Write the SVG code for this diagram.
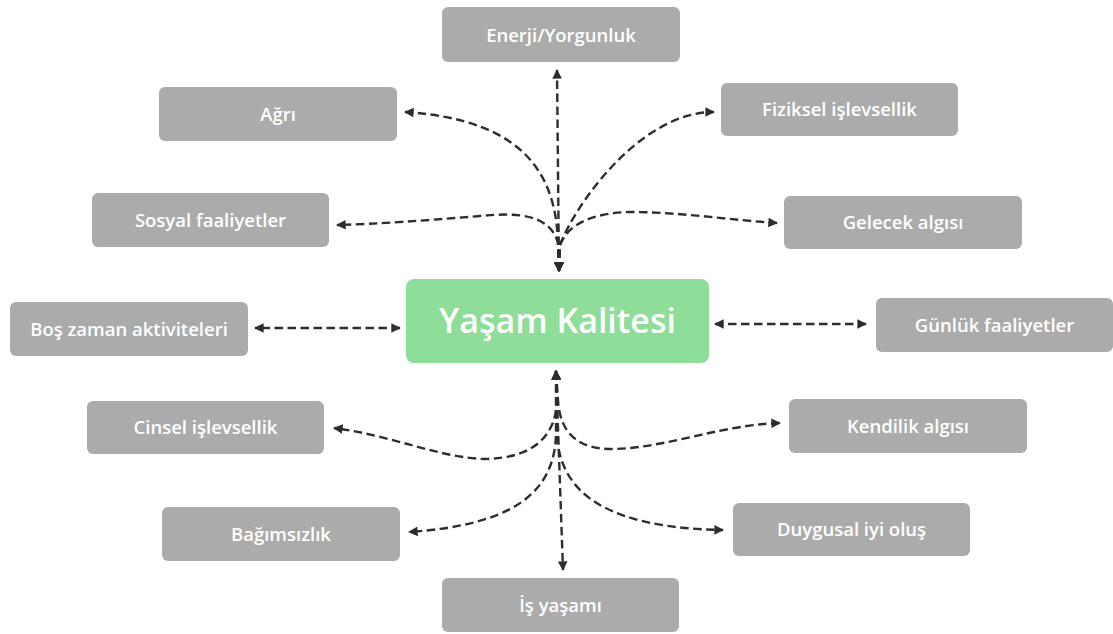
<svg xmlns="http://www.w3.org/2000/svg" width="1113" height="634" viewBox="0 0 1113 634">
<style>
.box{fill:#ABABAB}
.ctr{fill:#8EDD99}
.lbl{font-family:"Open Sans","Noto Sans","Liberation Sans",sans-serif;font-weight:600;font-size:18.5px;fill:#fff;text-anchor:middle}
.title{font-family:"Open Sans","Noto Sans","Liberation Sans",sans-serif;font-weight:600;font-size:34px;fill:#fff;text-anchor:middle}
.c{fill:none;stroke:#2d2d2d;stroke-width:2.4;stroke-dasharray:8.5 4.5;marker-start:url(#ah);marker-end:url(#ah)}
</style>
<defs>
<marker id="ah" viewBox="0 0 10 10" refX="9" refY="5" markerWidth="4.2" markerHeight="4" orient="auto-start-reverse" markerUnits="strokeWidth">
<path d="M0,0 L10,5 L0,10 z" fill="#2d2d2d"/>
</marker>
</defs>
<g id="connectors">
<path class="c" d="M559 271 L557 70"/>
<path class="c" d="M559 271 L558 243 C556 180 530 120 405 112"/>
<path class="c" d="M559 271 L558 243 C550 215 520 212 480 216 C430 220 380 224 337 225"/>
<path class="c" d="M559 271 L560 245 C575 205 640 112 714 112"/>
<path class="c" d="M559 271 L560 245 C568 225 590 213 630 212 C680 212 730 220 777 223"/>
<path class="c" d="M556 371 L563 570"/>
<path class="c" d="M556 371 L557 400 C556 435 535 458 485 459 C440 458 390 435 334 428"/>
<path class="c" d="M556 371 L558 400 C560 435 580 450 615 449 C670 447 720 425 780 423"/>
<path class="c" d="M556 371 L556 435 C554 495 510 525 409 532"/>
<path class="c" d="M556 371 L557 435 C560 495 610 528 723 530"/>
<path class="c" d="M400 328 L255 328"/>
<path class="c" d="M715 324 L866 324"/>
</g>
<g id="center"><rect class="ctr" x="406" y="279" width="303" height="84" rx="8"/><text class="title" x="557.5" y="333">Yaşam Kalitesi</text></g>
<g id="n-enerji"><rect class="box" x="442" y="7" width="238" height="55" rx="6"/><text class="lbl" x="561" y="41.5">Enerji/Yorgunluk</text></g>
<g id="n-agri"><rect class="box" x="159" y="87" width="238" height="54" rx="6"/><text class="lbl" x="278" y="120.5">Ağrı</text></g>
<g id="n-sosyal"><rect class="box" x="92" y="193" width="237" height="54" rx="6"/><text class="lbl" x="210.5" y="226.5">Sosyal faaliyetler</text></g>
<g id="n-fiziksel"><rect class="box" x="721" y="83" width="237" height="53" rx="6"/><text class="lbl" x="839.5" y="116">Fiziksel işlevsellik</text></g>
<g id="n-gelecek"><rect class="box" x="784" y="196" width="238" height="53" rx="6"/><text class="lbl" x="903" y="229">Gelecek algısı</text></g>
<g id="n-bos"><rect class="box" x="10" y="302" width="238" height="54" rx="6"/><text class="lbl" x="129" y="335.5">Boş zaman aktiviteleri</text></g>
<g id="n-gunluk"><rect class="box" x="876" y="298" width="237" height="54" rx="6"/><text class="lbl" x="994.5" y="331.5">Günlük faaliyetler</text></g>
<g id="n-cinsel"><rect class="box" x="87" y="401" width="237" height="53" rx="6"/><text class="lbl" x="205.5" y="434">Cinsel işlevsellik</text></g>
<g id="n-bagimsizlik"><rect class="box" x="162" y="507" width="238" height="54" rx="6"/><text class="lbl" x="281" y="540.5">Bağımsızlık</text></g>
<g id="n-kendilik"><rect class="box" x="789" y="399" width="238" height="54" rx="6"/><text class="lbl" x="908" y="432.5">Kendilik algısı</text></g>
<g id="n-duygusal"><rect class="box" x="733" y="503" width="237" height="53" rx="6"/><text class="lbl" x="851.5" y="536">Duygusal iyi oluş</text></g>
<g id="n-is"><rect class="box" x="442" y="578" width="237" height="54" rx="6"/><text class="lbl" x="560.5" y="611.5">İş yaşamı</text></g>
</svg>
